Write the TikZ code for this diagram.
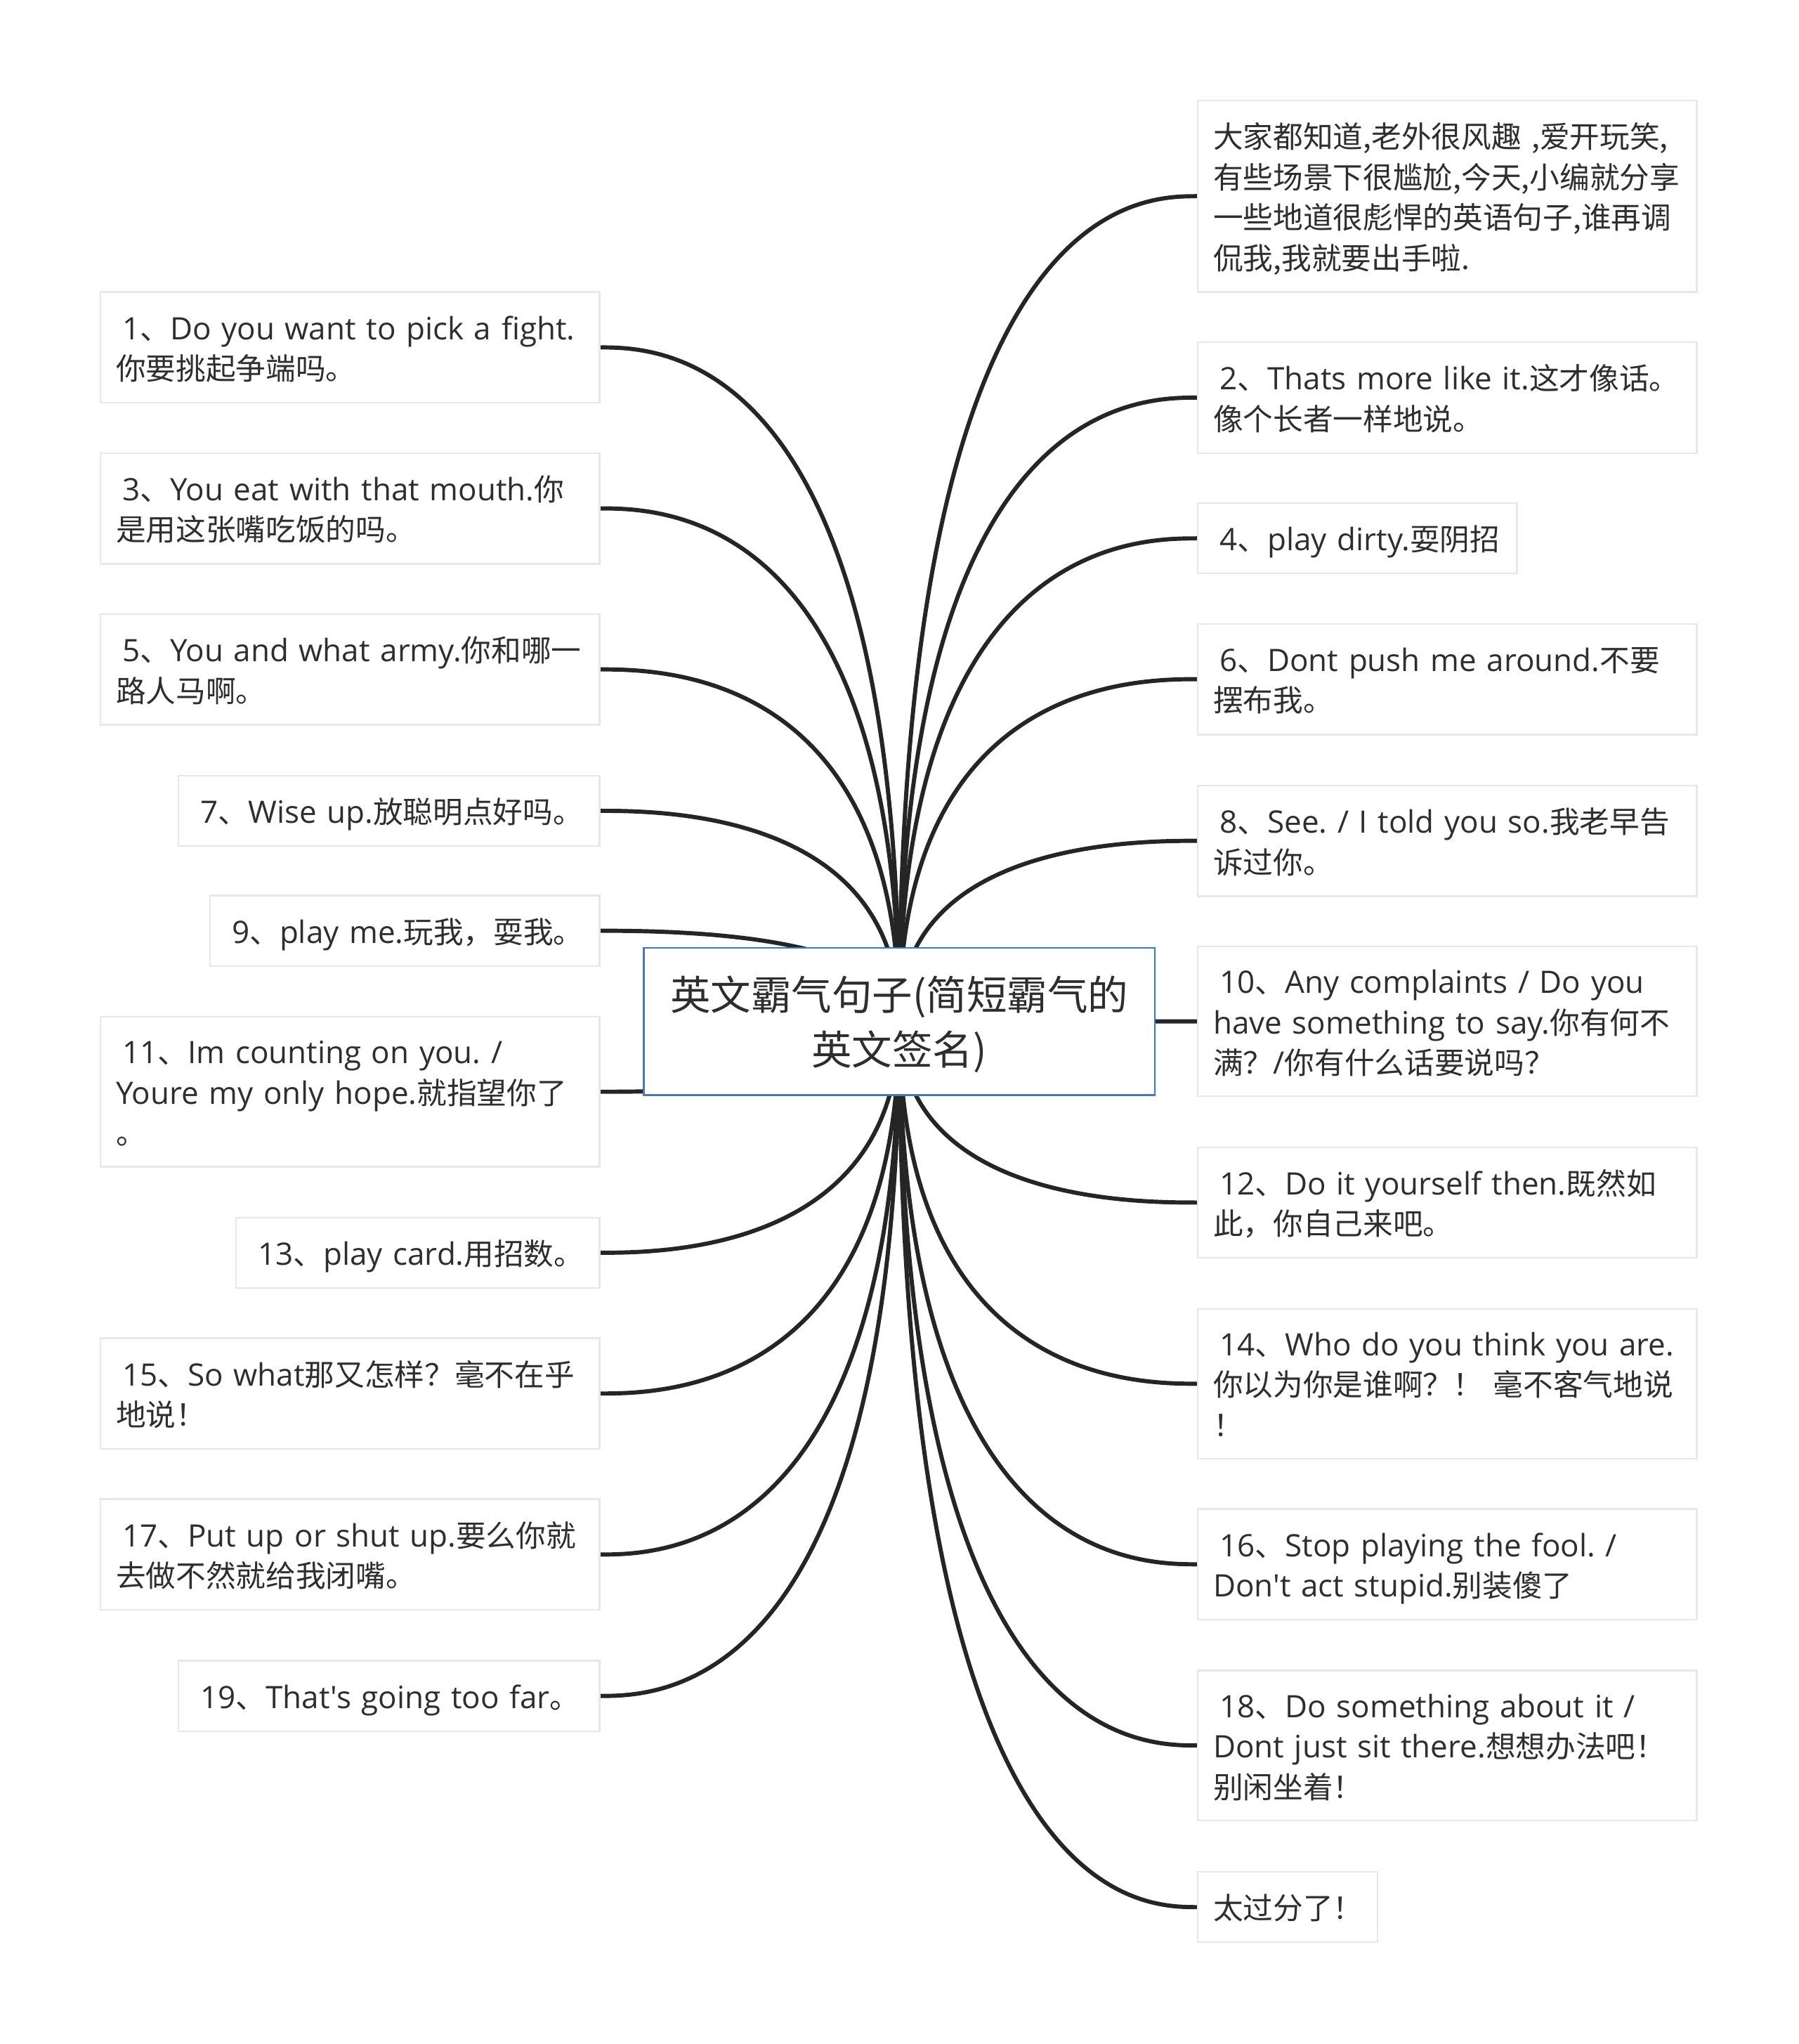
\documentclass[tikz,border=0pt]{standalone}
\usepackage{fontspec}
\setmainfont{Open Sans}[Scale=1.03,Ligatures=TeXOff]
\newfontfamily\cjkf{Noto Sans CJK SC}
\usetikzlibrary{calc}
\pgfdeclarelayer{bg}
\pgfsetlayers{bg,main}
\definecolor{leafline}{HTML}{E4E7EB}
\definecolor{rootline}{HTML}{3A78D2}
\definecolor{linkcol}{HTML}{252525}
\definecolor{txt}{HTML}{2E2E2E}
\newcommand\C[1]{{\cjkf #1}}
\newcommand\Lx[1]{\mbox{#1}}
\newcommand\topstrut{\rule{0pt}{25.5pt}}
\newcommand\botstrut{\rule[-6.5pt]{0pt}{6.5pt}}
\newcommand\lead{\hspace*{5pt}}
\frenchspacing
\begin{document}
\begin{tikzpicture}[x=1pt,y=-1pt,
  leaf/.style={draw=leafline, line width=1.2pt, fill=white, text=txt,
    inner xsep=12pt, inner ysep=0pt, outer sep=0pt, align=left,
    font=\frenchspacing\fontsize{23}{31}\selectfont,
    execute at begin node=\topstrut, execute at end node=\botstrut},
  lnode/.style={leaf, anchor=east},
  rnode/.style={leaf, anchor=west},
  root/.style={draw=rootline, line width=1.3pt, fill=white, text=txt,
    align=center, font=\cjkf\fontsize{31}{42}\selectfont,
    minimum width=392pt, minimum height=113pt, inner sep=0pt},
  link/.style={draw=linkcol, line width=3.2pt}
]
\useasboundingbox (0,0) rectangle (1380,1568);

\node[root] (c) at (690,783.5) {\rule{0pt}{33pt}英文霸气句子(简短霸气的\\英文签名)\rule[-8pt]{0pt}{8pt}};

% left side
\node[lnode, text width=359pt, minimum height=85pt] (l1) at (460,266.5)
  {\Lx{\lead 1\C{、}Do you want to pick a fight.}\\\Lx{\C{你要挑起争端吗。}}};
\node[lnode, text width=359pt, minimum height=85pt] (l3) at (460,390)
  {\Lx{\lead 3\C{、}You eat with that mouth.\C{你}}\\\Lx{\C{是用这张嘴吃饭的吗。}}};
\node[lnode, text width=359pt, minimum height=85pt] (l5) at (460,513.5)
  {\Lx{\lead 5\C{、}You and what army.\C{你和哪一}}\\\Lx{\C{路人马啊。}}};
\node[lnode, text width=299pt, minimum height=54pt] (l7) at (460,622)
  {\Lx{\lead 7\C{、}Wise up.\C{放聪明点好吗。}}};
\node[lnode, text width=275pt, minimum height=54pt] (l9) at (460,714)
  {\Lx{\lead 9\C{、}play me.\C{玩我，耍我。}}};
\node[lnode, text width=359pt, minimum height=115pt] (l11) at (460,837.5)
  {\Lx{\lead 11\C{、}Im counting on you. /}\\\Lx{Youre my only hope.\C{就指望你了}}\\\Lx{\C{。}}};
\node[lnode, text width=255pt, minimum height=54pt] (l13) at (460,961)
  {\Lx{\lead 13\C{、}play card.\C{用招数。}}};
\node[lnode, text width=359pt, minimum height=85pt] (l15) at (460,1069)
  {\Lx{\lead 15\C{、}So what\C{那又怎样？毫不在乎}}\\\Lx{\C{地说！}}};
\node[lnode, text width=359pt, minimum height=85pt] (l17) at (460,1192.5)
  {\Lx{\lead 17\C{、}Put up or shut up.\C{要么你就}}\\\Lx{\C{去做不然就给我闭嘴。}}};
\node[lnode, text width=299pt, minimum height=54pt] (l19) at (460,1301)
  {\Lx{\lead 19\C{、}That's going too far\C{。}}};

% right side
\node[rnode, text width=359pt, minimum height=147pt] (r0) at (919,150.5)
  {\Lx{\C{大家都知道,老外很风趣 ,爱开玩笑,}}\\\Lx{\C{有些场景下很尴尬,今天,小编就分享}}\\\Lx{\C{一些地道很彪悍的英语句子,谁再调}}\\\Lx{\C{侃我,我就要出手啦.}}};
\node[rnode, text width=359pt, minimum height=85pt] (r2) at (919,305)
  {\Lx{\lead 2\C{、}Thats more like it.\C{这才像话。}}\\\Lx{\C{像个长者一样地说。}}};
\node[rnode, text width=221pt, minimum height=54pt] (r4) at (919,413)
  {\Lx{\lead 4\C{、}play dirty.\C{耍阴招}}};
\node[rnode, text width=359pt, minimum height=85pt] (r6) at (919,521)
  {\Lx{\lead 6\C{、}Dont push me around.\C{不要}}\\\Lx{\C{摆布我。}}};
\node[rnode, text width=359pt, minimum height=85pt] (r8) at (919,645)
  {\Lx{\lead 8\C{、}See. / I told you so.\C{我老早告}}\\\Lx{\C{诉过你。}}};
\node[rnode, text width=359pt, minimum height=115pt] (r10) at (919,783.5)
  {\Lx{\lead 10\C{、}Any complaints / Do you}\\\Lx{have something to say.\C{你有何不}}\\\Lx{\C{满？}/\C{你有什么话要说吗？}}};
\node[rnode, text width=359pt, minimum height=85pt] (r12) at (919,922.5)
  {\Lx{\lead 12\C{、}Do it yourself then.\C{既然如}}\\\Lx{\C{此，你自己来吧。}}};
\node[rnode, text width=359pt, minimum height=115pt] (r14) at (919,1061.5)
  {\Lx{\lead 14\C{、}Who do you think you are.}\\\Lx{\C{你以为你是谁啊？！ 毫不客气地说}}\\\Lx{\C{！}}};
\node[rnode, text width=359pt, minimum height=85pt] (r16) at (919,1200)
  {\Lx{\lead 16\C{、}Stop playing the fool. /}\\\Lx{Don't act stupid.\C{别装傻了}}};
\node[rnode, text width=359pt, minimum height=115pt] (r18) at (919,1339)
  {\Lx{\lead 18\C{、}Do something about it /}\\\Lx{Dont just sit there.\C{想想办法吧！}}\\\Lx{\C{别闲坐着！}}};
\node[rnode, text width=114pt, minimum height=54pt] (r20) at (919,1463)
  {\Lx{\C{太过分了！}}};

\begin{pgfonlayer}{bg}
  \fill[white] (0,0) rectangle (1380,1568);
  \foreach \n in {l1,l3,l5,l7,l9,l11,l13,l15,l17,l19}
    \draw[link] (c.center) .. controls (c.center |- \n.east)
      and ($(\n.east)!0.2!(c.center |- \n.east)$) .. (\n.east);
  \foreach \n in {r0,r2,r4,r6,r8,r10,r12,r14,r16,r18,r20}
    \draw[link] (c.center) .. controls (c.center |- \n.west)
      and ($(\n.west)!0.2!(c.center |- \n.west)$) .. (\n.west);
\end{pgfonlayer}
\end{tikzpicture}
\end{document}
